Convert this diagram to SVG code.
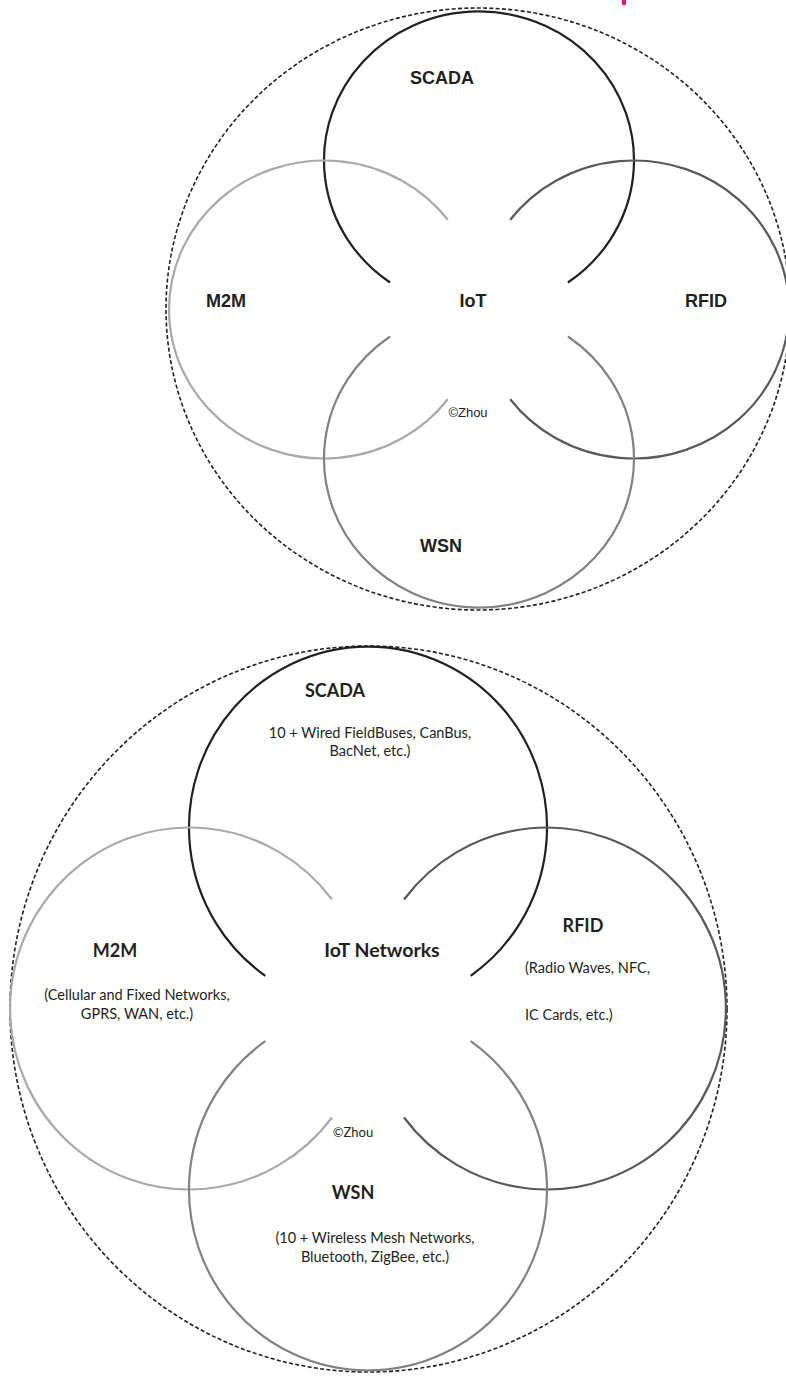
<svg xmlns="http://www.w3.org/2000/svg" width="786" height="1376" viewBox="0 0 786 1376">
  <style>
    .ring { fill: none; stroke-width: 2.2; }
    .scada { stroke: #231f20; }
    .m2m { stroke: #a7a9ac; }
    .rfid { stroke: #58595b; }
    .wsn { stroke: #808285; }
    .outer { fill: none; stroke: #231f20; stroke-width: 1.6; stroke-dasharray: 4 2.3; }
    .lbl1 { font-family: "Liberation Sans", Arial, sans-serif; font-weight: bold; font-size: 18px; fill: #231f20; text-anchor: middle; }
    .copy1 { font-family: "Liberation Sans", Arial, sans-serif; font-size: 13px; fill: #231f20; text-anchor: middle; }
    .lbl2 { font-family: Lato, "Open Sans", sans-serif; font-weight: bold; font-size: 18px; fill: #231f20; text-anchor: middle; }
    .note2 { font-family: Lato, "Open Sans", sans-serif; font-size: 14.5px; fill: #231f20; text-anchor: middle; }
    .left2 { text-anchor: start; }
    .copy2 { font-family: Lato, "Open Sans", sans-serif; font-size: 13px; fill: #231f20; text-anchor: middle; }
  </style>

  <!-- small accent tick at the top edge -->
  <rect x="622" y="0" width="4" height="5" fill="#e0197d"/>

  <!-- ===== Upper figure: IoT ===== -->
  <g id="iot-top">
    <g id="top-connectors">
      <ellipse class="outer" cx="478" cy="309" rx="312" ry="301"/>
    </g>
    <g id="top-scada">
      <path class="ring scada" d="M 567.9 282.5 A 155 149 0 1 0 390.1 282.5"/>
      <text class="lbl1" x="442" y="84">SCADA</text>
    </g>
    <g id="top-m2m">
      <path class="ring m2m" d="M 447.8 219.8 A 155 149 0 1 0 447.8 399.2"/>
      <text class="lbl1" x="226" y="307">M2M</text>
    </g>
    <g id="top-rfid">
      <path class="ring rfid" d="M 510.2 399.2 A 155 149 0 1 0 510.2 219.8"/>
      <text class="lbl1" x="706" y="307">RFID</text>
    </g>
    <g id="top-wsn">
      <path class="ring wsn" d="M 390.1 336.5 A 155 149 0 1 0 567.9 336.5"/>
      <text class="lbl1" x="441" y="552">WSN</text>
    </g>
    <g id="top-iot">
      <text class="lbl1" x="473" y="307">IoT</text>
      <text class="copy1" x="468" y="417">©Zhou</text>
    </g>
  </g>

  <!-- ===== Lower figure: IoT Networks ===== -->
  <g id="iot-bottom">
    <g id="bottom-connectors">
      <ellipse class="outer" cx="368.5" cy="1009" rx="358.5" ry="363"/>
    </g>
    <g id="bottom-scada">
      <path class="ring scada" d="M 470.7 975.8 A 179 181 0 1 0 265.3 975.8"/>
      <text class="lbl2" x="335" y="697">SCADA</text>
      <text class="note2" x="370" y="738">10 + Wired FieldBuses, CanBus,</text>
      <text class="note2" x="370" y="756">BacNet, etc.)</text>
    </g>
    <g id="bottom-m2m">
      <path class="ring m2m" d="M 332 899.5 A 179 181 0 1 0 332 1117.5"/>
      <text class="lbl2" x="115" y="957">M2M</text>
      <text class="note2" x="137" y="1000">(Cellular and Fixed Networks,</text>
      <text class="note2" x="137" y="1019">GPRS, WAN, etc.)</text>
    </g>
    <g id="bottom-rfid">
      <path class="ring rfid" d="M 404 1117.5 A 179 181 0 1 0 404 899.5"/>
      <text class="lbl2" x="583" y="932">RFID</text>
      <text class="note2 left2" x="525" y="973">(Radio Waves, NFC,</text>
      <text class="note2 left2" x="525" y="1020">IC Cards, etc.)</text>
    </g>
    <g id="bottom-wsn">
      <path class="ring wsn" d="M 265.3 1041.2 A 179 181 0 1 0 470.7 1041.2"/>
      <text class="lbl2" x="353" y="1199">WSN</text>
      <text class="note2" x="375" y="1243">(10 + Wireless Mesh Networks,</text>
      <text class="note2" x="375" y="1262">Bluetooth, ZigBee, etc.)</text>
    </g>
    <g id="bottom-iot">
      <text class="lbl2" x="382" y="957" style="font-size:19.5px">IoT Networks</text>
      <text class="copy2" x="353" y="1137">©Zhou</text>
    </g>
  </g>
</svg>
